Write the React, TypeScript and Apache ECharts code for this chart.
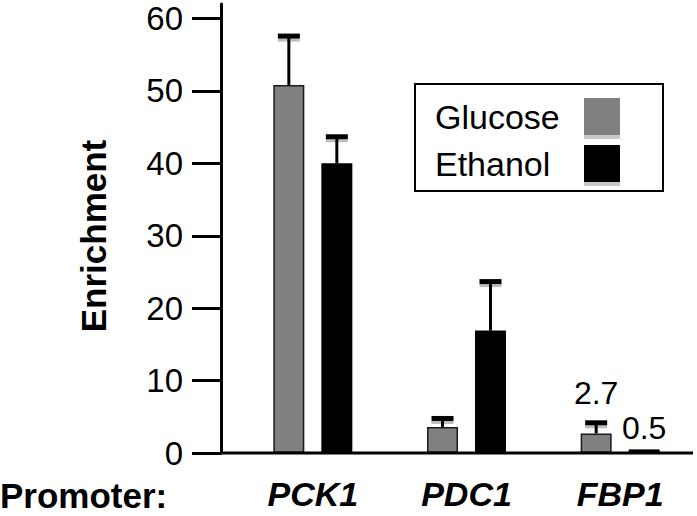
import React, { useEffect, useRef } from "react";
import * as echarts from "echarts";

const categories = ["PCK1", "PDC1", "FBP1"];
const glucose = [50.8, 3.6, 2.7];
const ethanol = [40.0, 16.9, 0.5];
const glucoseUpper: (number | null)[] = [57.5, 4.7, 4.1];
const ethanolUpper: (number | null)[] = [43.6, 23.6, null];
const glucoseLabel: (string | null)[] = [null, null, "2.7"];
const ethanolLabel: (string | null)[] = [null, null, "0.5"];
const yTicks = [0, 10, 20, 30, 40, 50, 60];
const seriesNames = ["Glucose", "Ethanol"];

const FONT = "'Liberation Sans', Arial, Helvetica, sans-serif";
const BAR_W = 31;
const BAR_GAP = 17;

function errSeries(means: number[], uppers: (number | null)[], offset: number) {
  const data: number[][] = [];
  means.forEach((m, i) => {
    const u = uppers[i];
    if (u != null) data.push([i, m, u]);
  });
  return {
    type: "custom",
    coordinateSystem: "cartesian2d",
    z: 5,
    silent: true,
    encode: { x: 0, y: 2 },
    data,
    renderItem: (params: any, api: any) => {
      const idx = api.value(0);
      const base = api.coord([idx, api.value(1)]);
      const top = api.coord([idx, api.value(2)]);
      const x = base[0] + offset;
      const capW = 22;
      return {
        type: "group",
        children: [
          {
            type: "rect",
            shape: { x: x - capW / 2, y: top[1] + 2, width: capW, height: 3 },
            style: { fill: "#bdbdbd" },
          },
          {
            type: "line",
            shape: { x1: x, y1: base[1], x2: x, y2: top[1] },
            style: { stroke: "#000", lineWidth: 3 },
          },
          {
            type: "rect",
            shape: { x: x - capW / 2, y: top[1] - 3, width: capW, height: 5 },
            style: { fill: "#000" },
          },
        ],
      };
    },
  };
}

export default function App() {
  const ref = useRef<HTMLDivElement>(null);
  useEffect(() => {
    if (!ref.current) return;
    const chart = echarts.init(ref.current, undefined, { renderer: "svg" });
    const mkLabel = (txt: string | null, distance: number) =>
      txt
        ? {
            show: true,
            position: "top",
            distance,
            formatter: txt,
            fontSize: 32,
            color: "#000",
            fontFamily: FONT,
          }
        : undefined;
    chart.setOption({
      animation: false,
      textStyle: { fontFamily: FONT },
      grid: { left: 236, top: 1, width: 472.5, height: 452 },
      legend: {
        data: seriesNames,
        orient: "vertical",
        left: 415,
        top: 84,
        align: "right",
        padding: [14, 43, 9, 20],
        itemGap: 10,
        itemWidth: 36,
        itemHeight: 37,
        borderColor: "#000",
        borderWidth: 2,
        icon: "rect",
        itemStyle: {
          borderWidth: 0,
          shadowColor: "#c8c8c8",
          shadowOffsetY: 4,
          shadowBlur: 0,
        },
        formatter: (name: string) => `{t|${name}}`,
        textStyle: {
          fontSize: 34,
          color: "#000",
          fontFamily: FONT,
          rich: {
            t: { width: 144, align: "left", fontSize: 34, fontFamily: FONT, color: "#000" },
          },
        },
      },
      xAxis: {
        type: "category",
        data: categories,
        axisLine: { show: false },
        axisTick: { show: false },
        axisLabel: {
          fontSize: 34,
          fontWeight: "bold",
          fontStyle: "italic",
          color: "#000",
          margin: 24,
          fontFamily: FONT,
        },
      },
      yAxis: {
        type: "value",
        min: 0,
        max: 62,
        offset: 15,
        axisLine: { show: true, lineStyle: { color: "#000", width: 3 } },
        axisTick: {
          show: true,
          length: 29,
          lineStyle: { color: "#000", width: 3 },
          customValues: yTicks,
        },
        axisLabel: {
          customValues: yTicks,
          fontSize: 33,
          lineHeight: 33,
          padding: [4, 0, 0, 0],
          color: "#000",
          margin: 38,
          fontFamily: FONT,
        },
        splitLine: { show: false },
      },
      series: [
        {
          type: "bar",
          name: seriesNames[0],
          barWidth: BAR_W,
          barGap: (BAR_GAP / BAR_W) * 100 + "%",
          itemStyle: { color: "#808080", borderColor: "#1a1a1a", borderWidth: 1.5 },
          data: glucose.map((v, i) => ({ value: v, label: mkLabel(glucoseLabel[i], 24) })),
        },
        {
          type: "bar",
          name: seriesNames[1],
          barWidth: BAR_W,
          itemStyle: { color: "#000" },
          data: ethanol.map((v, i) => ({ value: v, label: mkLabel(ethanolLabel[i], 5) })),
        },
        errSeries(glucose, glucoseUpper, -(BAR_W + BAR_GAP) / 2),
        errSeries(ethanol, ethanolUpper, (BAR_W + BAR_GAP) / 2),
      ],
    });
    const y0 = chart.convertToPixel({ yAxisIndex: 0 }, 0) as number;
    chart.setOption({
      graphic: [
        {
          type: "line",
          shape: { x1: 221, y1: y0, x2: 693, y2: y0 },
          style: { stroke: "#000", lineWidth: 3 },
          z: 10,
        },
        {
          type: "text",
          x: 93,
          y: 236,
          rotation: Math.PI / 2,
          style: {
            text: "Enrichment",
            fontSize: 35,
            fontWeight: "bold",
            fontFamily: FONT,
            fill: "#000",
            align: "center",
            verticalAlign: "middle",
          },
        },
        {
          type: "text",
          x: 0,
          y: 495,
          style: {
            text: "Promoter:",
            fontSize: 35,
            fontWeight: "bold",
            fontFamily: FONT,
            fill: "#000",
            align: "left",
            verticalAlign: "middle",
          },
        },
      ],
    });
    return () => chart.dispose();
  }, []);
  return (
    <div
      ref={ref}
      style={{ position: "absolute", left: 0, top: 0, width: 697, height: 516 }}
    />
  );
}
